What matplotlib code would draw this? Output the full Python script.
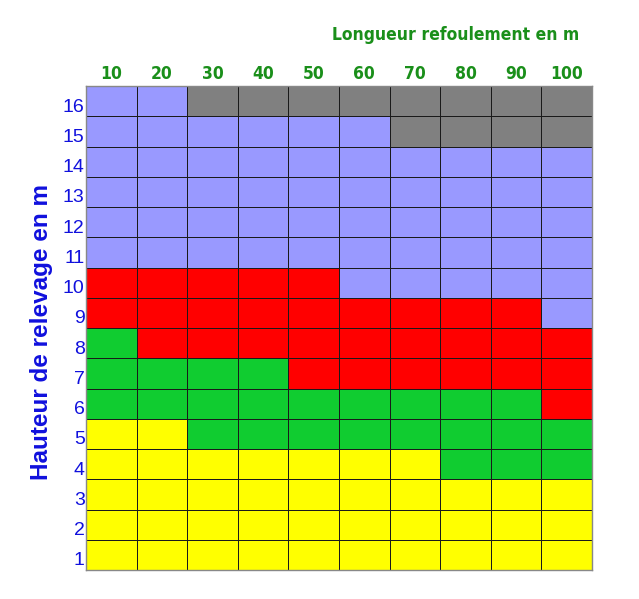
import numpy as np
import matplotlib
matplotlib.use("Agg")
import matplotlib.pyplot as plt
from matplotlib.colors import ListedColormap, BoundaryNorm

# Data
longueurs = [10, 20, 30, 40, 50, 60, 70, 80, 90, 100]
hauteurs = list(range(1, 17))
# upper height (inclusive) of each zone per column
yellow_max = [5, 5, 4, 4, 4, 4, 4, 3, 3, 3]
green_max = [8, 7, 7, 7, 6, 6, 6, 6, 6, 5]
red_max = [10, 10, 10, 10, 10, 9, 9, 9, 9, 8]
lavender_max = [16, 16, 15, 15, 15, 15, 14, 14, 14, 14]

zone_colors = ["#FFFF00", "#10CC30", "#FF0000", "#9999FF", "#808080"]

Z = np.zeros((len(hauteurs), len(longueurs)))
for j in range(len(longueurs)):
    for i, h in enumerate(hauteurs):
        if h <= yellow_max[j]:
            Z[i, j] = 0
        elif h <= green_max[j]:
            Z[i, j] = 1
        elif h <= red_max[j]:
            Z[i, j] = 2
        elif h <= lavender_max[j]:
            Z[i, j] = 3
        else:
            Z[i, j] = 4

fig = plt.figure(figsize=(6.39, 5.99), dpi=100)
ax = fig.add_axes([86/639, 1 - 570/599, (592-86)/639, (570-86)/599])
cmap = ListedColormap(zone_colors)
norm = BoundaryNorm([-0.5, 0.5, 1.5, 2.5, 3.5, 4.5], cmap.N)
xe = np.arange(len(longueurs) + 1)
ye = np.arange(len(hauteurs) + 1)
ax.pcolormesh(xe, ye, Z, cmap=cmap, norm=norm, edgecolors="#1a1a1a", linewidth=0.7)
ax.set_xlim(0, len(longueurs))
ax.set_ylim(0, len(hauteurs))

ax.set_xticks(np.arange(len(longueurs)) + 0.5)
ax.set_xticklabels([str(v) for v in longueurs])
ax.xaxis.tick_top()
ax.set_yticks(np.arange(len(hauteurs)) + 0.37)
ax.set_yticklabels([str(v) for v in hauteurs])
ax.tick_params(axis="both", length=0)
ax.tick_params(axis="x", pad=2)
ax.tick_params(axis="y", pad=1)
for lab in ax.get_xticklabels():
    lab.set_fontfamily("DejaVu Sans")
    lab.set_fontstretch("condensed")
    lab.set_fontweight("bold")
    lab.set_fontsize(12.5)
    lab.set_color("#1A8F1A")
for lab in ax.get_yticklabels():
    lab.set_fontfamily("Liberation Sans")
    lab.set_fontsize(14)
    lab.set_color("#1010DD")
for s in ax.spines.values():
    s.set_color("#888888")
    s.set_linewidth(1)

fig.text(456/639, 1 - 35/599, "Longueur refoulement en m", ha="center", va="center",
         fontsize=12.5, fontweight="bold", color="#1A8F1A", fontfamily="DejaVu Sans",
         fontstretch="condensed")
fig.text(42/639, 1 - 332/599, "Hauteur de relevage en m", ha="center", va="center",
         rotation=90, fontsize=17.5, fontweight="bold", color="#1010DD",
         fontfamily="Liberation Sans")

fig.savefig("out.png", dpi=100)
